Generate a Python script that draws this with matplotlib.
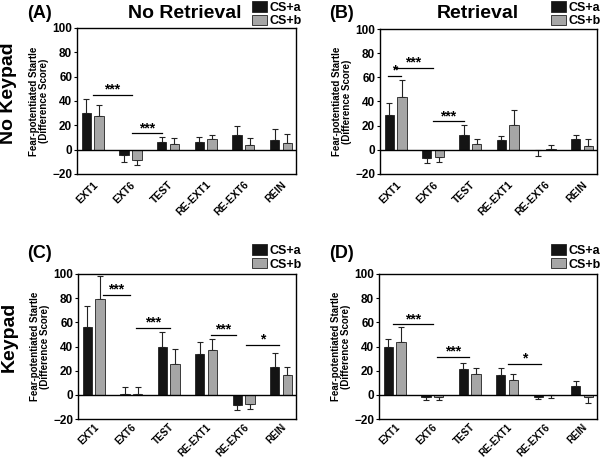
import numpy as np
import matplotlib
matplotlib.use("Agg")
import matplotlib.pyplot as plt
from matplotlib.patches import Patch

plt.rcParams["font.family"] = ["Liberation Sans", "DejaVu Sans"]
plt.rcParams["font.weight"] = "bold"

sessions = ["EXT1", "EXT6", "TEST", "RE-EXT1", "RE-EXT6", "REIN"]

# panel A: No Keypad / No Retrieval
A_cs_a = [30.2, -4.7, 6.0, 6.6, 12.4, 7.7]
A_cs_a_err = [11.8, 5.7, 4.7, 4.1, 7.1, 9.6]
A_cs_b = [27.7, -8.5, 4.7, 8.8, 3.8, 5.5]
A_cs_b_err = [9.1, 4.1, 4.6, 3.3, 5.5, 7.1]
A_sig = [(0.0, 1.05, 45, "***"), (1.05, 1.85, 13.5, "***")]

# panel B: No Keypad / Retrieval
B_cs_a = [29.0, -6.4, 12.2, 8.0, -0.5, 8.8]
B_cs_a_err = [9.7, 4.4, 8.3, 3.6, 4.5, 3.6]
B_cs_b = [44.0, -5.8, 4.7, 20.5, 0.3, 2.8]
B_cs_b_err = [14.0, 4.4, 4.1, 12.5, 4.1, 6.0]
B_sig = [(-0.2, 0.15, 61, "*"), (-0.04, 1.0, 68, "***"), (1.0, 1.83, 23.5, "***")]

# panel C: Keypad / No Retrieval
C_cs_a = [56.4, 1.0, 39.5, 34.0, -8.2, 23.0]
C_cs_a_err = [17.3, 5.3, 12.5, 9.6, 4.7, 11.8]
C_cs_b = [78.9, 1.0, 25.5, 37.0, -7.7, 16.2]
C_cs_b_err = [19.5, 5.3, 12.5, 9.6, 4.3, 7.1]
C_sig = [(0.25, 0.96, 82.5, "***"), (1.14, 2.03, 55.6, "***"),
         (3.12, 3.8, 49.6, "***"), (4.06, 4.95, 41.4, "*")]

# panel D: Keypad / Retrieval
D_cs_a = [39.5, -1.6, 21.0, 16.7, -1.9, 7.1]
D_cs_a_err = [7.1, 2.5, 5.6, 5.5, 1.9, 4.1]
D_cs_b = [44.1, -2.2, 17.5, 12.0, -0.3, -1.9]
D_cs_b_err = [12.1, 2.2, 4.7, 5.0, 2.7, 4.9]
D_sig = [(-0.04, 1.01, 58.4, "***"), (1.12, 1.99, 31.2, "***"), (3.02, 3.9, 25.8, "*")]

COL_A = "#141414"
COL_B = "#a6a6a6"
W, H = 600, 463


def one_sided(means, errs):
    means = np.array(means)
    errs = np.array(errs)
    low = np.where(means < 0, errs, 0)
    high = np.where(means >= 0, errs, 0)
    return [low, high]


def draw_panel(ax, a, a_err, b, b_err, sig, xfs=7.5, xpad=4):
    x = np.arange(len(sessions))
    off, w = 0.17, 0.25
    for xs, m, e, c in [(x - off, a, a_err, COL_A), (x + off, b, b_err, COL_B)]:
        ax.bar(xs, m, w, color=c, edgecolor="#222222", linewidth=0.6, zorder=2)
        ax.errorbar(xs, m, yerr=one_sided(m, e), fmt="none", ecolor="#222222",
                    elinewidth=0.8, capsize=2.5, capthick=0.8, zorder=1)
    ax.axhline(0, color="black", lw=1.0, zorder=3)
    for x1, x2, y, lab in sig:
        ax.plot([x1, x2], [y, y], color="black", lw=0.9)
        ax.text((x1 + x2) / 2, y - 1.5, lab, ha="center", va="bottom",
                fontsize=10, fontweight="bold")
    ax.set_xlim(-0.42, 5.4)
    ax.set_ylim(-20, 100)
    ax.set_yticks(range(-20, 101, 20))
    ax.set_xticks(x)
    ax.set_xticklabels(sessions, rotation=45, ha="right", rotation_mode="anchor",
                       fontsize=xfs, fontweight="bold")
    ax.tick_params(axis="x", length=0, pad=xpad)
    ax.tick_params(axis="y", length=2.5, width=0.8, labelsize=8.5, pad=1)
    for t in ax.get_yticklabels():
        t.set_fontweight("bold")
    for s in ax.spines.values():
        s.set_linewidth(1.0)
    ax.set_ylabel("Fear-potentiated Startle\n(Difference Score)", fontsize=7,
                  fontweight="bold", labelpad=2, linespacing=1.0)


def px_axes(fig, left, right, top, bottom):
    return fig.add_axes([left / W, 1 - bottom / H, (right - left) / W, (bottom - top) / H])


fig = plt.figure(figsize=(6.0, 4.63), dpi=100)

panels = [
    ((77, 296, 28, 174), A_cs_a, A_cs_a_err, A_cs_b, A_cs_b_err, A_sig, 7.5, 4),
    ((380, 597, 29, 174), B_cs_a, B_cs_a_err, B_cs_b, B_cs_b_err, B_sig, 7.5, 4),
    ((78, 296, 274, 419), C_cs_a, C_cs_a_err, C_cs_b, C_cs_b_err, C_sig, 7.0, 2),
    ((379, 597, 274, 419), D_cs_a, D_cs_a_err, D_cs_b, D_cs_b_err, D_sig, 7.0, 2),
]
for box, a, ae, b, be, sig, xfs, xpad in panels:
    ax = px_axes(fig, *box)
    draw_panel(ax, a, ae, b, be, sig, xfs, xpad)

# legends
handles = [Patch(facecolor=COL_A, edgecolor="#222222", lw=0.6, label="CS+a"),
           Patch(facecolor=COL_B, edgecolor="#222222", lw=0.6, label="CS+b")]
for lx, ly in [(251, 0), (550, 0), (251, 243), (550, 243)]:
    fig.legend(handles=handles, loc="upper left", bbox_to_anchor=(lx / W, 1 - ly / H),
               frameon=False, handlelength=1.2, handleheight=0.9,
               handletextpad=0.2, labelspacing=0.1, borderpad=0.1, borderaxespad=0,
               prop={"weight": "bold", "size": 9})

# panel letters and titles
for lab, x, y in [("(A)", 40, 13), ("(B)", 341, 13), ("(C)", 40, 253), ("(D)", 341, 253)]:
    fig.text(x / W, 1 - y / H, lab, ha="center", va="center", fontsize=13, fontweight="bold")
fig.text(185 / W, 1 - 13 / H, "No Retrieval", ha="center", va="center", fontsize=14, fontweight="bold")
fig.text(478 / W, 1 - 13 / H, "Retrieval", ha="center", va="center", fontsize=14, fontweight="bold")
fig.text(9 / W, 1 - 93 / H, "No Keypad", ha="center", va="center", rotation=90,
         fontsize=14, fontweight="bold")
fig.text(9 / W, 1 - 337 / H, "Keypad", ha="center", va="center", rotation=90,
         fontsize=14, fontweight="bold")

fig.savefig("out.png", dpi=100)
